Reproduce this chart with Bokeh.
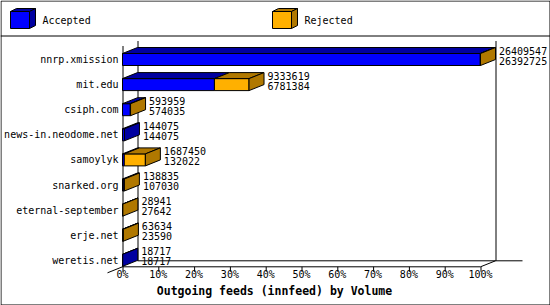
from bokeh.plotting import figure
from bokeh.models import Range1d, ColumnDataSource
from bokeh.embed import file_html
from bokeh.resources import INLINE
from bokeh.core.properties import value

# Outgoing innfeed volume per peer
hosts = ["nnrp.xmission", "mit.edu", "csiph.com", "news-in.neodome.net",
         "samoylyk", "snarked.org", "eternal-september", "erje.net", "weretis.net"]
offered = [26409547, 9333619, 593959, 144075, 1687450, 138835, 28941, 63634, 18717]
accepted = [26392725, 6781384, 574035, 144075, 132022, 107030, 27642, 23590, 18717]
tick_values = [0, 10, 20, 30, 40, 50, 60, 70, 80, 90, 100]
tick_labels = ["0%", "10%", "20%", "30%", "40%", "50%", "60%", "70%", "80%", "90%", "100%"]
series_names = ["Accepted", "Rejected"]
title_text = "Outgoing feeds (innfeed) by Volume"

# colours: front face, shaded top/side face
BLUE, BLUE_DARK = "#0000ff", "#0000a0"
ORANGE, ORANGE_DARK = "#ffb000", "#b07800"
FONT = value("DejaVu Sans Mono")

# canvas layout (pixels)
W, H = 550, 305
X0_PX, X100_PX = 122, 480          # where 0 % and 100 % sit
PX = 100.0 / (X100_PX - X0_PX)     # percent per pixel
ROW0, PITCH = 59.0, 25.1           # centre of the first row, row spacing
HALF = 6.0                         # half bar height
DX, DY = 15 * PX, 6.0              # 3-D depth offset


def xp(px):
    """pixel column -> percent"""
    return (px - X0_PX) * PX


p = figure(width=W, height=H, output_backend="svg", toolbar_location=None,
           x_range=Range1d(xp(0), xp(W)), y_range=Range1d(H, 0),
           min_border=0, border_fill_color="white", background_fill_color="white")
p.axis.visible = False
p.grid.visible = False
p.outline_line_color = None

# outer border and legend separator
p.line([xp(0.5), xp(W - 0.5), xp(W - 0.5), xp(0.5), xp(0.5)],
       [0.5, 0.5, H - 0.5, H - 0.5, 0.5], line_color="black", line_width=1)
p.line([xp(0), xp(W)], [35.5, 35.5], line_color="black", line_width=1)

# axis frame
top_y = 40.5
floor_back = ROW0 + PITCH * (len(hosts) - 1) + 0.5
floor_front = floor_back + DY
lines_x = [
    [0 + 0.5 * PX, 0 + 0.5 * PX],                   # front left axis
    [DX + 0.5 * PX, DX + 0.5 * PX],                 # back left wall edge
    [100 + DX + 0.5 * PX, 100 + DX + 0.5 * PX],     # back right wall edge
    [DX, 100 + DX + 27 * PX],                       # back floor
    [0, 100],                                       # front floor
    [100, 100 + DX],                                # right depth edge
    [-DX, 0],                                       # left depth edge
]
lines_y = [
    [top_y + 5, floor_front],
    [top_y, floor_back],
    [top_y, floor_back],
    [floor_back, floor_back],
    [floor_front, floor_front],
    [floor_front, floor_back],
    [floor_front + DY, floor_front],
]
p.multi_line(lines_x, lines_y, line_color="black", line_width=1)

# ticks and tick labels
p.segment(x0=[t + 0.5 * PX for t in tick_values], y0=[floor_front] * len(tick_values),
          x1=[t + 0.5 * PX for t in tick_values], y1=[floor_front + 5] * len(tick_values),
          line_color="black")
p.text(x=tick_values, y=[floor_front + 8] * len(tick_values), text=tick_labels,
       text_font=FONT, text_font_size="10px", text_align="center",
       text_baseline="middle", text_color="black")

# 3-D bars: accepted segment, rejected segment on top of it
vmax = max(offered)
xs, ys, fills = [], [], []
for i, (tot, acc) in enumerate(zip(offered, accepted)):
    c = ROW0 + PITCH * i
    a = acc / vmax * 100
    t = tot / vmax * 100
    top, bot = c - HALF, c + HALF
    segs = [(0, a, BLUE, BLUE_DARK)]
    if t > a:
        segs.append((a, t, ORANGE, ORANGE_DARK))
    for x0, x1, front, shade in segs:
        xs.append([x0, x1, x1, x0]); ys.append([top, top, bot, bot]); fills.append(front)
        xs.append([x0, x1, x1 + DX, x0 + DX]); ys.append([top, top, top - DY, top - DY]); fills.append(shade)
    side = ORANGE_DARK if t > a else BLUE_DARK
    xs.append([t, t + DX, t + DX, t]); ys.append([top, top - DY, bot - DY, bot]); fills.append(side)

p.patches(xs="xs", ys="ys", fill_color="fills", line_color="black", line_width=1,
          source=ColumnDataSource(dict(xs=xs, ys=ys, fills=fills)))

# value labels beside each bar
rows = [ROW0 + PITCH * i for i in range(len(hosts))]
lab_x = [tot / vmax * 100 + DX + 3.5 * PX for tot in offered]
p.text(x=lab_x, y=[r - 9 for r in rows], text=[str(v) for v in offered],
       text_font=FONT, text_font_size="10px", text_baseline="middle", text_color="black")
p.text(x=lab_x, y=[r + 1 for r in rows], text=[str(v) for v in accepted],
       text_font=FONT, text_font_size="10px", text_baseline="middle", text_color="black")

# category labels
p.text(x=[xp(118)] * len(hosts), y=rows, text=hosts, text_font=FONT,
       text_font_size="10px", text_align="right", text_baseline="middle",
       text_color="black")

# axis title
p.text(x=[xp(274)], y=[290], text=[title_text], text_font=FONT,
       text_font_size="11.5px", text_font_style="bold", text_align="center",
       text_baseline="middle", text_color="black")

# legend: small cubes with names
leg_x = [10, 272]
leg_cols = [(BLUE, BLUE_DARK), (ORANGE, ORANGE_DARK)]
lx, ly, lf = [], [], []
for px0, (front, shade) in zip(leg_x, leg_cols):
    x0, x1 = xp(px0), xp(px0 + 19)
    d = 6 * PX
    lx += [[x0, x1, x1, x0], [x0, x1, x1 + d, x0 + d], [x1, x1 + d, x1 + d, x1]]
    ly += [[11, 11, 28, 28], [11, 11, 8, 8], [11, 8, 25, 28]]
    lf += [front, shade, shade]
p.patches(xs="xs", ys="ys", fill_color="fills", line_color="black", line_width=1,
          source=ColumnDataSource(dict(xs=lx, ys=ly, fills=lf)))
p.text(x=[xp(px0 + 32) for px0 in leg_x], y=[20, 20], text=series_names,
       text_font=FONT, text_font_size="10px", text_baseline="middle", text_color="black")

open("out.html", "w").write(file_html(p, INLINE))
